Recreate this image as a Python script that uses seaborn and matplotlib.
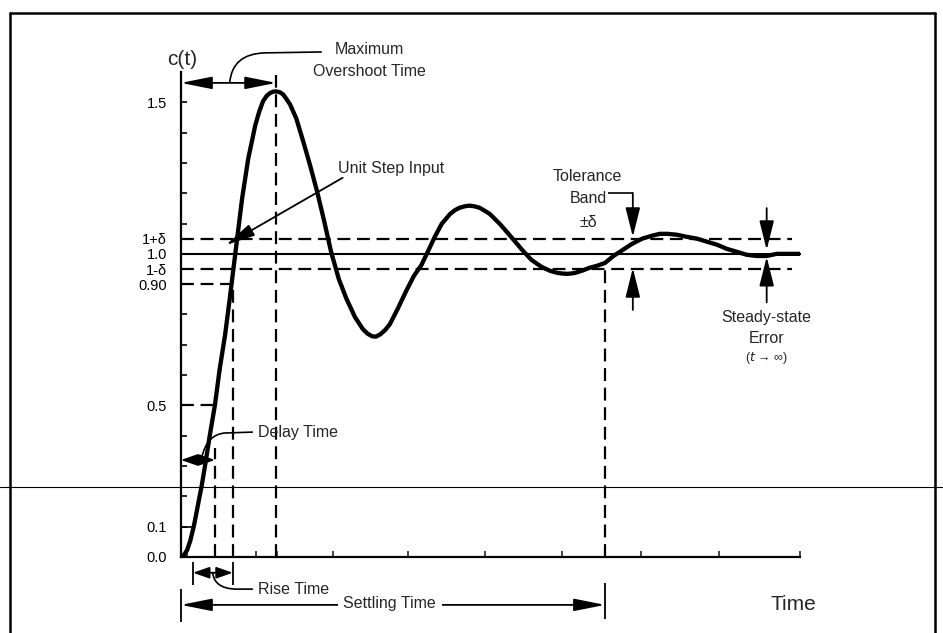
import numpy as np
import pandas as pd
import matplotlib
matplotlib.use("Agg")
import matplotlib.pyplot as plt
import seaborn as sns
from matplotlib.patches import FancyArrowPatch, PathPatch
from matplotlib.path import Path
from matplotlib.lines import Line2D

# ---------------- data ----------------
time = [0.00, 0.04, 0.08, 0.12, 0.17, 0.22, 0.27, 0.32, 0.37, 0.44,
        0.50, 0.57, 0.63, 0.71, 0.79, 0.87, 0.92, 0.96, 1.01, 1.06,
        1.11, 1.15, 1.19, 1.23, 1.28, 1.32, 1.36, 1.41, 1.49, 1.58,
        1.67, 1.76, 1.85, 1.94, 2.04, 2.14, 2.25, 2.35, 2.41, 2.47,
        2.52, 2.58, 2.64, 2.70, 2.80, 2.91, 3.01, 3.11, 3.19, 3.28,
        3.37, 3.48, 3.54, 3.60, 3.67, 3.73, 3.79, 3.86, 3.92, 3.99,
        4.12, 4.22, 4.32, 4.42, 4.53, 4.66, 4.77, 4.87, 4.93, 4.99,
        5.04, 5.09, 5.18, 5.28, 5.37, 5.48, 5.59, 5.71, 5.83, 5.96,
        6.09, 6.19, 6.29, 6.41, 6.54, 6.67, 6.80, 6.93, 7.05, 7.18,
        7.31, 7.44, 7.57, 7.70, 7.83, 8.00]
response = [0.000, 0.007, 0.023, 0.053, 0.106, 0.172, 0.238, 0.315, 0.397, 0.503,
            0.619, 0.732, 0.851, 1.017, 1.182, 1.315, 1.375, 1.424, 1.468, 1.503,
            1.522, 1.530, 1.535, 1.536, 1.533, 1.526, 1.512, 1.493, 1.447, 1.371,
            1.291, 1.205, 1.109, 1.007, 0.917, 0.851, 0.791, 0.752, 0.737, 0.728,
            0.727, 0.735, 0.749, 0.768, 0.818, 0.877, 0.927, 0.964, 1.007, 1.056,
            1.099, 1.132, 1.144, 1.152, 1.157, 1.159, 1.157, 1.152, 1.143, 1.132,
            1.099, 1.070, 1.040, 1.010, 0.980, 0.957, 0.944, 0.937, 0.935, 0.934,
            0.935, 0.937, 0.944, 0.954, 0.960, 0.970, 0.993, 1.013, 1.033, 1.050,
            1.060, 1.066, 1.066, 1.063, 1.056, 1.050, 1.040, 1.030, 1.017, 1.007,
            0.997, 0.993, 0.993, 1.000, 1.000, 1.000]

step_level = 1.0
delta = 0.05
ytick_values = [0.0, 0.1, 0.5, 0.9, 0.95, 1.0, 1.05, 1.5]
ytick_labels = ["0.0", "0.1", "0.5", "0.90", "1-δ", "1.0", "1+δ", "1.5"]
yminor_values = [0.2, 0.3, 0.4, 0.6, 0.7, 0.8, 1.1, 1.2, 1.3, 1.4]
xtick_values = [0.97, 1.96, 2.93, 3.93, 4.92, 5.94, 6.96, 8.0]
xminor_values = [0.08, 0.44, 0.67, 1.24]

t_10 = 0.155      # 10 % point (start of rise time)
t_delay = 0.44    # delay time
t_rise = 0.67     # end of rise time
t_peak = 1.23     # maximum overshoot time
t_settle = 5.48   # settling time
t_tol = 5.84      # tolerance band arrows
t_ss = 7.57       # steady-state error arrows

# ---------------- style ----------------
sns.set_theme(style="white")
plt.rcParams["font.family"] = ["Liberation Sans", "DejaVu Sans"]

fig = plt.figure(figsize=(9.43, 6.33), dpi=100)
ax = fig.add_axes([0.1919, 0.1201, 0.6564, 0.7662])

df = pd.DataFrame({"Time": time, "c(t)": response})
sns.lineplot(data=df, x="Time", y="c(t)", ax=ax, color="black", lw=3.1,
             sort=False, zorder=5, solid_joinstyle="round",
             solid_capstyle="round")

ax.set_xlim(0, 8)
ax.set_ylim(0, 1.6)
ax.set_xlabel("")
ax.set_ylabel("")

for s in ["top", "right"]:
    ax.spines[s].set_visible(False)
for s in ["left", "bottom"]:
    ax.spines[s].set_color("black")
    ax.spines[s].set_linewidth(1.6)

ax.set_yticks(ytick_values)
ax.set_yticklabels(ytick_labels)
ax.set_yticks(yminor_values, minor=True)
ax.set_xticks(xtick_values)
ax.set_xticklabels([""] * len(xtick_values))
ax.set_xticks(xminor_values, minor=True)
ax.tick_params(axis="y", which="both", direction="in", length=4, width=1.2,
               pad=10, labelsize=10.5, colors="black", left=True)
ax.tick_params(axis="x", which="both", direction="in", length=4, width=1.2,
               bottom=True)
ax.grid(False)

K = "black"
dash = (0, (5.8, 3.0))
dlw = 1.6

def dline(xs, ys):
    ax.plot(xs, ys, color=K, lw=dlw, ls=dash, clip_on=False, zorder=3)

def sline(xs, ys, lw=1.3):
    ax.plot(xs, ys, color=K, lw=lw, clip_on=False, zorder=3,
            solid_capstyle="butt")

def arrow(p0, p1, style, hl, hw, lw=1.3):
    a = FancyArrowPatch(p0, p1, arrowstyle=f"{style},head_length={hl},head_width={hw}",
                        mutation_scale=10, color=K, lw=lw, shrinkA=0, shrinkB=0,
                        clip_on=False, zorder=6)
    ax.add_patch(a)

def leader(verts):
    codes = [Path.MOVETO, Path.CURVE3, Path.CURVE3, Path.LINETO]
    p = PathPatch(Path(verts, codes), fill=False, lw=1.2, color=K,
                  transform=ax.transData, clip_on=False, zorder=6)
    ax.add_patch(p)

# unit step input and tolerance band
sline([0, 8.02], [step_level, step_level], lw=1.5)
dline([0, 7.9], [step_level + delta] * 2)
dline([0, 7.9], [step_level - delta] * 2)

# reference levels and time markers
dline([0, 0.63], [0.9, 0.9])
dline([0, 0.42], [0.5, 0.5])
sline([0, t_10], [0.1, 0.1], lw=1.2)
dline([t_delay, t_delay], [0, 0.36])
dline([t_rise, t_rise], [0, 0.9])
dline([t_peak, t_peak], [0, 1.59])
dline([t_settle, t_settle], [0, 0.96])

fs = 11.5
# maximum overshoot time
arrow((0, 1.564), (t_peak, 1.564), "<|-|>", 1.9, 0.38)
leader([(0.63, 1.564), (0.66, 1.660), (1.085, 1.663), (1.82, 1.666)])
ax.text(2.44, 1.673, "Maximum", ha="center", va="center", fontsize=fs)
ax.text(2.44, 1.600, "Overshoot Time", ha="center", va="center", fontsize=fs)

# unit step input
arrow((2.09, 1.251), (0.58, 1.029), "-|>", 1.8, 0.38)
ax.text(2.03, 1.283, "Unit Step Input", ha="left", va="center", fontsize=fs)

# delay time
arrow((0, 0.320), (t_delay, 0.320), "<|-|>", 1.0, 0.35)
leader([(0.27, 0.330), (0.34, 0.405), (0.57, 0.409), (0.93, 0.412)])
ax.text(0.99, 0.412, "Delay Time", ha="left", va="center", fontsize=fs)

# rise time
arrow((t_10, -0.052), (t_rise, -0.052), "<|-|>", 1.0, 0.35)
sline([t_10, t_10], [-0.018, -0.092])
sline([t_rise, t_rise], [-0.018, -0.092])
leader([(0.41, -0.052), (0.43, -0.103), (0.70, -0.106), (0.93, -0.106)])
ax.text(0.99, -0.106, "Rise Time", ha="left", va="center", fontsize=fs)

# settling time
arrow((0, -0.158), (t_settle, -0.158), "<|-|>", 1.9, 0.38)
sline([0, 0], [-0.105, -0.214])
sline([t_settle, t_settle], [-0.086, -0.205])
ax.text(2.70, -0.153, "Settling Time", ha="center", va="center", fontsize=fs,
        zorder=7, bbox=dict(facecolor="white", edgecolor="none", pad=4))

# tolerance band
ax.text(5.25, 1.254, "Tolerance", ha="center", va="center", fontsize=fs)
ax.text(5.26, 1.184, "Band", ha="center", va="center", fontsize=fs)
ax.text(5.26, 1.105, "±δ", ha="center", va="center", fontsize=fs)
sline([5.52, t_tol], [1.201, 1.201], lw=1.2)
arrow((t_tol, 1.201), (t_tol, step_level + delta + 0.006), "-|>", 1.8, 0.45)
arrow((t_tol, 0.815), (t_tol, step_level - delta + 0.003), "-|>", 1.8, 0.45)

# steady-state error
arrow((t_ss, 1.151), (t_ss, 1.013), "-|>", 1.8, 0.45)
arrow((t_ss, 0.840), (t_ss, 0.990), "-|>", 1.8, 0.45)
ax.text(t_ss, 0.791, "Steady-state", ha="center", va="center", fontsize=fs)
ax.text(t_ss, 0.722, "Error", ha="center", va="center", fontsize=fs)
ax.text(t_ss, 0.655, "($t$ → ∞)", ha="center", va="center", fontsize=9)

# axis labels
ax.text(7.91, -0.158, "Time", ha="center", va="center", fontsize=15)
ax.text(0.01, 1.640, "c(t)", ha="center", va="center", fontsize=15)

# outer frame of the figure and the scan line
fig.add_artist(Line2D([0.0106, 0.0106], [0.0, 0.9795], color=K, lw=1.8))
fig.add_artist(Line2D([0.0106, 0.9915], [0.9795, 0.9795], color=K, lw=1.8))
fig.add_artist(Line2D([0.9915, 0.9915], [0.0, 0.9795], color=K, lw=1.8))
fig.add_artist(Line2D([0.0, 1.0], [0.2307, 0.2307], color=K, lw=0.8))

fig.savefig("out.png", dpi=100, facecolor="white")
